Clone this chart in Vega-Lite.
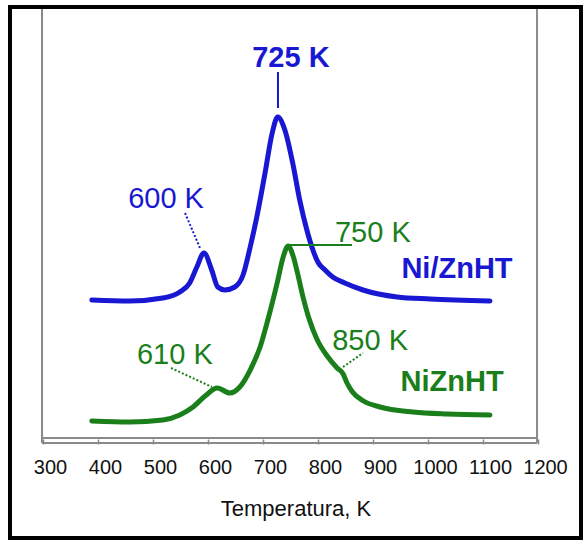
{
  "$schema": "https://vega.github.io/schema/vega-lite/v6.json",
  "width": 571,
  "height": 531,
  "autosize": {"type": "none"},
  "padding": {"left": 10, "top": 7, "right": 4, "bottom": 3},
  "background": "white",
  "config": {"view": {"stroke": "black", "strokeWidth": 4}},
  "datasets": {
    "curves": [
      {"series": "Ni/ZnHT", "T": 376, "v": 138}, {"series": "Ni/ZnHT", "T": 445, "v": 137}, {"series": "Ni/ZnHT", "T": 505, "v": 140},
      {"series": "Ni/ZnHT", "T": 536, "v": 146}, {"series": "Ni/ZnHT", "T": 554, "v": 155}, {"series": "Ni/ZnHT", "T": 567, "v": 171},
      {"series": "Ni/ZnHT", "T": 580, "v": 185}, {"series": "Ni/ZnHT", "T": 594, "v": 168}, {"series": "Ni/ZnHT", "T": 605, "v": 151},
      {"series": "Ni/ZnHT", "T": 618, "v": 148}, {"series": "Ni/ZnHT", "T": 636, "v": 151}, {"series": "Ni/ZnHT", "T": 651, "v": 163},
      {"series": "Ni/ZnHT", "T": 664, "v": 191}, {"series": "Ni/ZnHT", "T": 676, "v": 221}, {"series": "Ni/ZnHT", "T": 691, "v": 265},
      {"series": "Ni/ZnHT", "T": 704, "v": 305}, {"series": "Ni/ZnHT", "T": 714, "v": 321}, {"series": "Ni/ZnHT", "T": 727, "v": 308},
      {"series": "Ni/ZnHT", "T": 742, "v": 273}, {"series": "Ni/ZnHT", "T": 754, "v": 238}, {"series": "Ni/ZnHT", "T": 767, "v": 208},
      {"series": "Ni/ZnHT", "T": 778, "v": 188}, {"series": "Ni/ZnHT", "T": 787, "v": 176}, {"series": "Ni/ZnHT", "T": 800, "v": 168},
      {"series": "Ni/ZnHT", "T": 814, "v": 161}, {"series": "Ni/ZnHT", "T": 836, "v": 155}, {"series": "Ni/ZnHT", "T": 869, "v": 148},
      {"series": "Ni/ZnHT", "T": 931, "v": 141}, {"series": "Ni/ZnHT", "T": 991, "v": 139}, {"series": "Ni/ZnHT", "T": 1100, "v": 137},
      {"series": "NiZnHT", "T": 376, "v": 17}, {"series": "NiZnHT", "T": 445, "v": 16}, {"series": "NiZnHT", "T": 505, "v": 18},
      {"series": "NiZnHT", "T": 536, "v": 23}, {"series": "NiZnHT", "T": 560, "v": 31}, {"series": "NiZnHT", "T": 582, "v": 42},
      {"series": "NiZnHT", "T": 604, "v": 50}, {"series": "NiZnHT", "T": 627, "v": 45}, {"series": "NiZnHT", "T": 645, "v": 51},
      {"series": "NiZnHT", "T": 664, "v": 68}, {"series": "NiZnHT", "T": 682, "v": 91}, {"series": "NiZnHT", "T": 696, "v": 118},
      {"series": "NiZnHT", "T": 713, "v": 155}, {"series": "NiZnHT", "T": 724, "v": 181}, {"series": "NiZnHT", "T": 733, "v": 192},
      {"series": "NiZnHT", "T": 742, "v": 182}, {"series": "NiZnHT", "T": 750, "v": 165}, {"series": "NiZnHT", "T": 760, "v": 141},
      {"series": "NiZnHT", "T": 770, "v": 121}, {"series": "NiZnHT", "T": 786, "v": 98}, {"series": "NiZnHT", "T": 804, "v": 82},
      {"series": "NiZnHT", "T": 822, "v": 70}, {"series": "NiZnHT", "T": 833, "v": 64}, {"series": "NiZnHT", "T": 840, "v": 55},
      {"series": "NiZnHT", "T": 850, "v": 46}, {"series": "NiZnHT", "T": 870, "v": 37}, {"series": "NiZnHT", "T": 900, "v": 31},
      {"series": "NiZnHT", "T": 960, "v": 26}, {"series": "NiZnHT", "T": 1022, "v": 24}, {"series": "NiZnHT", "T": 1100, "v": 23}
    ],
    "frame": [
      {"x": 285.5, "x2": 285.5, "y": -5, "y2": 429},
      {"x": 1185.5, "x2": 1185.5, "y": -5, "y2": 429},
      {"x": 285.5, "x2": 1185.5, "y": 0, "y2": 0},
      {"x": 285.5, "x2": 1185.5, "y": -5, "y2": -5}
    ],
    "leaders": [
      {"series": "Ni/ZnHT", "kind": "solid", "x": 714.5, "y": 366, "x2": 714.5, "y2": 330},
      {"series": "Ni/ZnHT", "kind": "dotted", "x": 545.5, "y": 225, "x2": 572.7, "y2": 190},
      {"series": "NiZnHT", "kind": "solid", "x": 732.7, "y": 193, "x2": 849, "y2": 193},
      {"series": "NiZnHT", "kind": "dotted", "x": 520, "y": 70, "x2": 594.5, "y2": 51},
      {"series": "NiZnHT", "kind": "dotted", "x": 832.7, "y": 71, "x2": 869, "y2": 85}
    ],
    "notes": [
      {"series": "Ni/ZnHT", "weight": "bold", "label": "725 K", "x": 738, "y": 380},
      {"series": "Ni/ZnHT", "weight": "normal", "label": "600 K", "x": 511, "y": 239},
      {"series": "NiZnHT", "weight": "normal", "label": "750 K", "x": 887, "y": 205},
      {"series": "Ni/ZnHT", "weight": "bold", "label": "Ni/ZnHT", "x": 1040, "y": 169},
      {"series": "NiZnHT", "weight": "normal", "label": "610 K", "x": 527, "y": 83},
      {"series": "NiZnHT", "weight": "normal", "label": "850 K", "x": 882, "y": 97},
      {"series": "NiZnHT", "weight": "bold", "label": "NiZnHT", "x": 1031, "y": 56}
    ]
  },
  "layer": [
    {
      "data": {"name": "frame"},
      "mark": {"type": "rule", "color": "#8a8a8a", "strokeWidth": 2},
      "encoding": {
        "x": {"field": "x", "type": "quantitative", "scale": {"domain": [227.27, 1265.45], "nice": false, "zero": false},
          "axis": {
            "values": [300, 400, 500, 600, 700, 800, 900, 1000, 1100, 1200],
            "format": "d",
            "title": "Temperatura, K",
            "offset": -99,
            "domain": false,
            "grid": false,
            "tickSize": 5,
            "tickColor": "#8a8a8a",
            "tickWidth": 1.5,
            "tickOffset": -7,
            "labelOffset": 7,
            "labelFont": "Liberation Sans",
            "labelFontSize": 20,
            "labelColor": "#111111",
            "labelPadding": 13,
            "labelOverlap": false,
            "labelFlush": false,
            "titleFont": "Liberation Sans",
            "titleFontSize": 22,
            "titleFontWeight": "normal",
            "titleColor": "#111111",
            "titlePadding": 21
          }},
        "x2": {"field": "x2"},
        "y": {"field": "y", "type": "quantitative", "scale": {"domain": [-100, 431], "nice": false, "zero": false}, "axis": null},
        "y2": {"field": "y2"}
      }
    },
    {
      "data": {"name": "curves"},
      "mark": {"type": "line", "strokeWidth": 5, "interpolate": "monotone", "strokeCap": "round"},
      "encoding": {
        "x": {"field": "T", "type": "quantitative"},
        "y": {"field": "v", "type": "quantitative"},
        "color": {"field": "series", "type": "nominal", "scale": {"domain": ["Ni/ZnHT", "NiZnHT"], "range": ["#1818d2", "#1a7f1a"]}, "legend": null}
      }
    },
    {
      "data": {"name": "leaders"},
      "mark": {"type": "rule", "strokeWidth": 2},
      "encoding": {
        "x": {"field": "x", "type": "quantitative"},
        "x2": {"field": "x2"},
        "y": {"field": "y", "type": "quantitative"},
        "y2": {"field": "y2"},
        "color": {"field": "series", "type": "nominal", "legend": null},
        "strokeDash": {"field": "kind", "type": "nominal", "scale": {"domain": ["solid", "dotted"], "range": [[1, 0], [2, 2]]}, "legend": null}
      }
    },
    {
      "data": {"name": "notes"},
      "transform": [{"filter": "datum.weight === 'bold'"}],
      "mark": {"type": "text", "font": "Liberation Sans", "fontSize": 29, "fontWeight": "bold", "align": "center", "baseline": "middle"},
      "encoding": {
        "x": {"field": "x", "type": "quantitative"},
        "y": {"field": "y", "type": "quantitative"},
        "text": {"field": "label"},
        "color": {"field": "series", "type": "nominal", "legend": null}
      }
    },
    {
      "data": {"name": "notes"},
      "transform": [{"filter": "datum.weight === 'normal'"}],
      "mark": {"type": "text", "font": "Liberation Sans", "fontSize": 29, "align": "center", "baseline": "middle"},
      "encoding": {
        "x": {"field": "x", "type": "quantitative"},
        "y": {"field": "y", "type": "quantitative"},
        "text": {"field": "label"},
        "color": {"field": "series", "type": "nominal", "legend": null}
      }
    }
  ]
}
